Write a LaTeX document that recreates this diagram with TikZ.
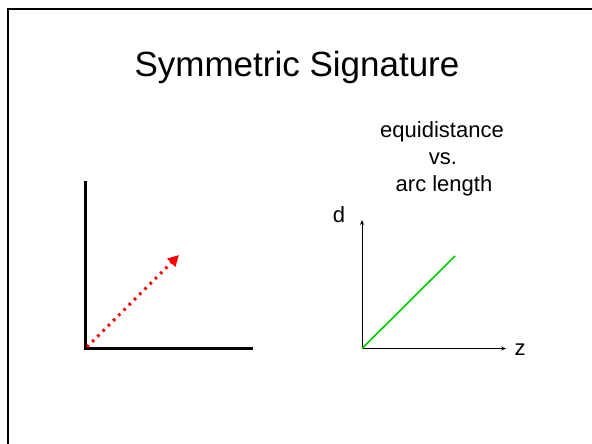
\documentclass[tikz,border=0pt]{standalone}
\usepackage{fontspec}
\setmainfont{Liberation Sans}
\usetikzlibrary{arrows.meta}
\begin{document}
\begin{tikzpicture}[x=1pt,y=-1pt,
  axis/.style={line width=2.2pt,line cap=butt},
  thinaxis/.style={line width=0.9pt,-{Stealth[length=5pt,width=4pt]}},
  lbl/.style={anchor=base,inner sep=0pt,font=\fontsize{22}{26}\selectfont},
  ttl/.style={anchor=base,inner sep=0pt,font=\fontsize{35}{42}\selectfont}]
\useasboundingbox (0,0) rectangle (592,444);
% frame
\coordinate (fb) at (7.5,444);
\coordinate (fc) at (7.5,9.5);
\coordinate (fr) at (592,9.5);
\draw[line width=2pt] (fb) -- (fc) -- (fr);
% title
\node[ttl] (title) at (297,76.5) {Symmetric Signature};
% left axes
\coordinate (lo) at (85.5,348.5);
\coordinate (ltop) at (85.5,181);
\coordinate (lright) at (253,348.5);
\draw[axis] (ltop) -- (lo) -- (lright);
\coordinate (rs) at (87,347);
\coordinate (re) at (179,255);
\draw[red,line width=3pt,dash pattern=on 2.6pt off 4.8pt,-{Triangle[length=11pt,width=11pt]}] (rs) -- (re);
% right axes
\node[lbl] (t1) at (442,137) {equidistance};
\node[lbl] (t2) at (443,164) {vs.};
\node[lbl] (t3) at (444,191) {arc length};
\coordinate (ro) at (362,348.5);
\coordinate (rtop) at (362,220);
\coordinate (rright) at (506,348.5);
\draw[thinaxis] (ro) -- (rtop);
\draw[thinaxis] (ro) -- (rright);
\node[lbl] (d) at (339,222) {d};
\node[lbl] (z) at (520,355) {z};
\coordinate (ge) at (455,256);
\draw[green!80!black,line width=1.6pt] (ro) -- (ge);
\end{tikzpicture}
\end{document}
